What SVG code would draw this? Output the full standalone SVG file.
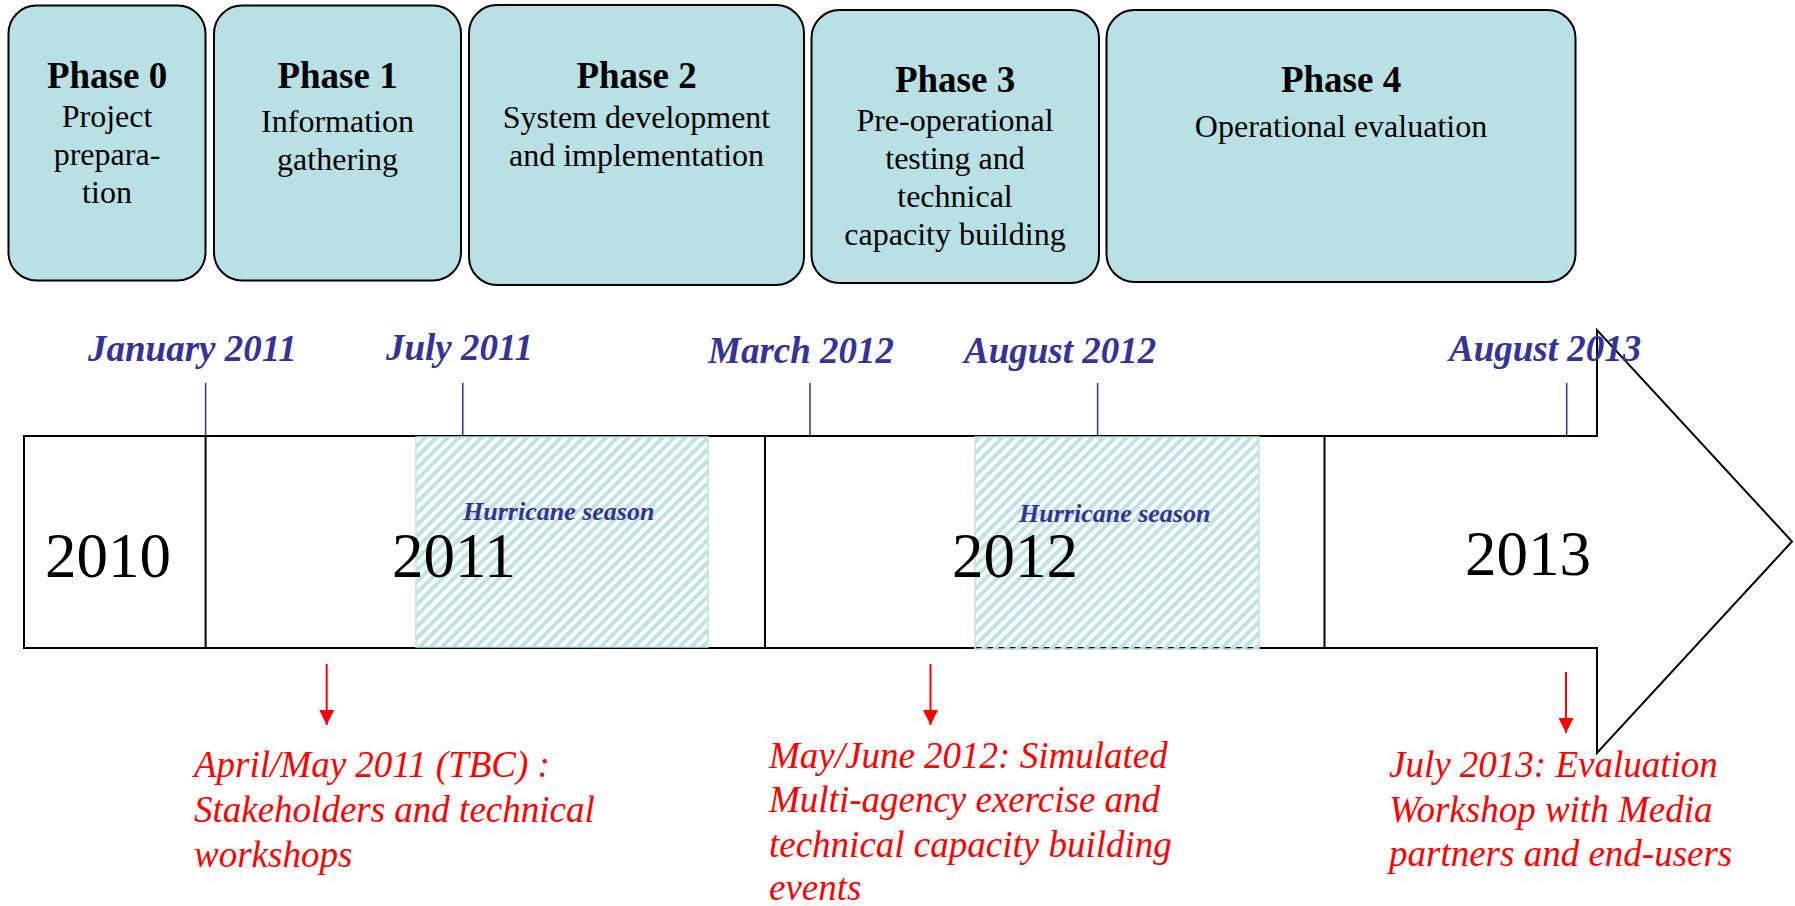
<svg xmlns="http://www.w3.org/2000/svg" width="1795" height="906" viewBox="0 0 1795 906">
<style>
.box{fill:#B9E0E4;stroke:#000;stroke-width:2}
.title{font-family:"Liberation Serif","Times New Roman",serif;font-weight:bold;font-size:37px;fill:#000;text-anchor:middle}
.body{font-family:"Liberation Serif","Times New Roman",serif;font-size:32px;fill:#000;text-anchor:middle}
.year{font-family:"Liberation Serif","Times New Roman",serif;font-size:63px;fill:#000}
.date{font-family:"Liberation Serif","Times New Roman",serif;font-weight:bold;font-style:italic;font-size:37px;fill:#333399}
.hur{font-family:"Liberation Serif","Times New Roman",serif;font-weight:bold;font-style:italic;font-size:26px;fill:#333399}
.red{font-family:"Liberation Serif","Times New Roman",serif;font-style:italic;font-size:37px;fill:#FF0000}
.tick{stroke:#333399;stroke-width:1.5}
.rarrow{stroke:#FF0000;stroke-width:2;marker-end:url(#redhead)}
.div{stroke:#000;stroke-width:2}
.hatch{fill:url(#stripes);stroke:#BDE3E6;stroke-width:1.5}
</style>
<defs>
<pattern id="stripes" width="8" height="8" patternUnits="userSpaceOnUse" patternTransform="rotate(45)">
<rect x="0" y="0" width="4" height="8" fill="#BDE3E6"/>
</pattern>
<marker id="redhead" viewBox="0 0 15 15" refX="15" refY="7.5" markerWidth="15" markerHeight="15" markerUnits="userSpaceOnUse" orient="auto">
<path d="M0,0 L15,7.5 L0,15 z" fill="#FF0000"/>
</marker>
</defs>
<rect width="1795" height="906" fill="#fff"/>

<g id="phase0">
<rect class="box" x="8.5" y="5.5" width="197" height="275" rx="28"/>
<text class="title" x="107" y="88">Phase 0</text>
<text class="body" x="107" y="127">Project</text>
<text class="body" x="107" y="165">prepara-</text>
<text class="body" x="107" y="203">tion</text>
</g>
<g id="phase1">
<rect class="box" x="214" y="5.5" width="247" height="275" rx="28"/>
<text class="title" x="337.5" y="88">Phase 1</text>
<text class="body" x="337.5" y="132">Information</text>
<text class="body" x="337.5" y="170">gathering</text>
</g>
<g id="phase2">
<rect class="box" x="469" y="5" width="335" height="280" rx="28"/>
<text class="title" x="636.5" y="88">Phase 2</text>
<text class="body" x="636.5" y="128">System development</text>
<text class="body" x="636.5" y="166">and implementation</text>
</g>
<g id="phase3">
<rect class="box" x="811.5" y="10" width="287.5" height="273" rx="28"/>
<text class="title" x="955" y="92">Phase 3</text>
<text class="body" x="955" y="131">Pre-operational</text>
<text class="body" x="955" y="169">testing and</text>
<text class="body" x="955" y="207">technical</text>
<text class="body" x="955" y="245">capacity building</text>
</g>
<g id="phase4">
<rect class="box" x="1106.5" y="10" width="469" height="272" rx="28"/>
<text class="title" x="1341" y="92">Phase 4</text>
<text class="body" x="1341" y="137">Operational evaluation</text>
</g>

<g id="timeline">
<polygon points="24,436 1597,436 1597,330 1792,541.5 1597,753 1597,648 24,648" fill="#fff" stroke="#000" stroke-width="2" stroke-linejoin="miter"/>
<rect class="hatch" x="416" y="437" width="292" height="210"/>
<rect class="hatch" x="975" y="437" width="284" height="212"/>
<line class="div" x1="205.6" y1="436" x2="205.6" y2="648"/>
<line class="div" x1="765" y1="436" x2="765" y2="648"/>
<line class="div" x1="1324.5" y1="436" x2="1324.5" y2="648"/>
<text class="year" x="45" y="577">2010</text>
<text class="year" x="392" y="577">2011</text>
<text class="year" x="952" y="577">2012</text>
<text class="year" x="1465" y="575">2013</text>
<text class="hur" x="463" y="520">Hurricane season</text>
<text class="hur" x="1019" y="522">Hurricane season</text>
</g>

<g id="dates">
<text class="date" x="88" y="361">January 2011</text>
<text class="date" x="386" y="360">July 2011</text>
<text class="date" x="708" y="363">March 2012</text>
<text class="date" x="964" y="363">August 2012</text>
<text class="date" x="1449" y="361">August 2013</text>
</g>

<g id="connectors">
<line class="tick" x1="205.6" y1="383" x2="205.6" y2="436"/>
<line class="tick" x1="462.8" y1="383" x2="462.8" y2="436"/>
<line class="tick" x1="810" y1="383" x2="810" y2="436"/>
<line class="tick" x1="1097.6" y1="383" x2="1097.6" y2="436"/>
<line class="tick" x1="1566.7" y1="383" x2="1566.7" y2="436"/>
<line class="rarrow" x1="326.7" y1="664" x2="326.7" y2="725"/>
<line class="rarrow" x1="930.5" y1="664" x2="930.5" y2="725"/>
<line class="rarrow" x1="1566" y1="672" x2="1566" y2="733"/>
</g>

<g id="event1">
<text class="red" x="194" y="777">April/May 2011 (TBC) :</text>
<text class="red" x="194" y="822">Stakeholders and technical</text>
<text class="red" x="194" y="867">workshops</text>
</g>
<g id="event2">
<text class="red" x="769" y="768">May/June 2012: Simulated</text>
<text class="red" x="769" y="812">Multi-agency exercise and</text>
<text class="red" x="769" y="857">technical capacity building</text>
<text class="red" x="769" y="900">events</text>
</g>
<g id="event3">
<text class="red" x="1389" y="777">July 2013: Evaluation</text>
<text class="red" x="1389" y="822">Workshop with Media</text>
<text class="red" x="1389" y="866">partners and end-users</text>
</g>
</svg>
